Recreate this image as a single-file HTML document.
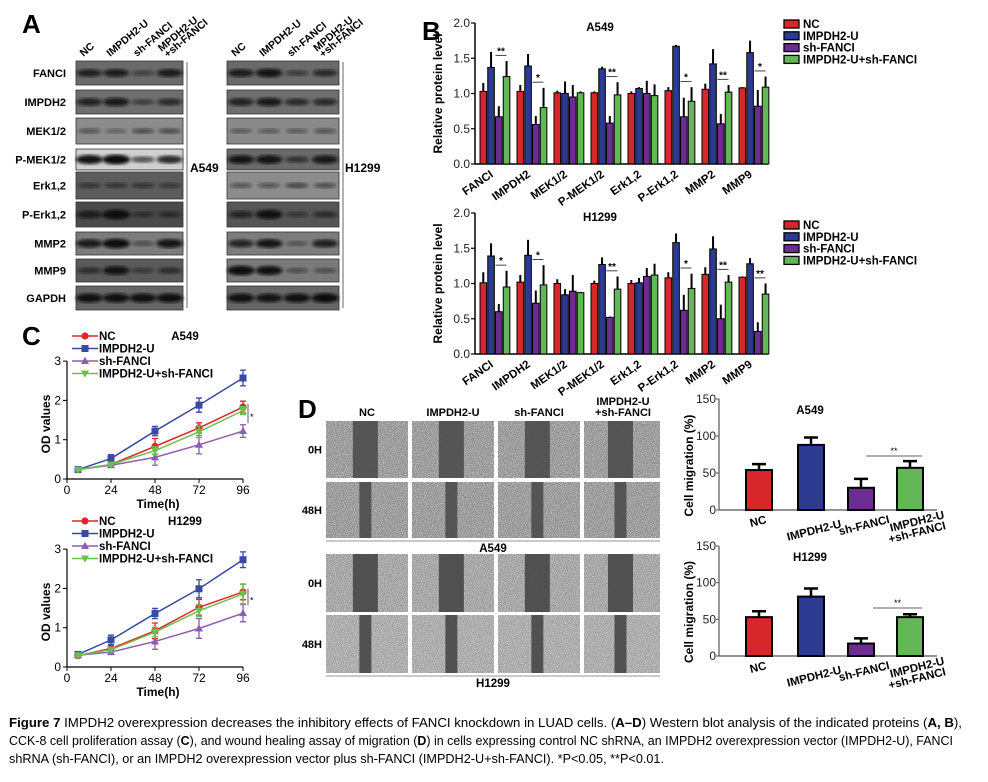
<!DOCTYPE html>
<html><head><meta charset="utf-8"><style>
html,body{margin:0;padding:0;background:#fff}
svg{display:block}
text{font-family:"Liberation Sans",sans-serif}
.b{font-weight:bold}
</style></head><body>
<svg id="fig" width="988" height="782" viewBox="0 0 988 782">
<defs>
<filter id="noise" x="0" y="0" width="100%" height="100%">
<feTurbulence type="fractalNoise" baseFrequency="0.9" numOctaves="2" seed="3"/>
<feColorMatrix type="matrix" values="0 0 0 0 1  0 0 0 0 1  0 0 0 0 1  3 0 0 0 -1.2"/>
</filter>
<filter id="blur1"><feGaussianBlur stdDeviation="1.6"/></filter>
</defs>
<g id="panelA"></g>
<g id="panelB"></g>
<g id="panelC"></g>
<g id="panelD"></g>
<g id="caption">
<text x="9" y="727" font-size="13" textLength="953" lengthAdjust="spacingAndGlyphs"><tspan font-weight="bold">Figure 7</tspan> IMPDH2 overexpression decreases the inhibitory effects of FANCI knockdown in LUAD cells. (<tspan font-weight="bold">A–D</tspan>) Western blot analysis of the indicated proteins (<tspan font-weight="bold">A, B</tspan>),</text>
<text x="9" y="745" font-size="13" textLength="944" lengthAdjust="spacingAndGlyphs">CCK-8 cell proliferation assay (<tspan font-weight="bold">C</tspan>), and wound healing assay of migration (<tspan font-weight="bold">D</tspan>) in cells expressing control NC shRNA, an IMPDH2 overexpression vector (IMPDH2-U), FANCI</text>
<text x="9" y="763" font-size="13" textLength="655" lengthAdjust="spacingAndGlyphs">shRNA (sh-FANCI), or an IMPDH2 overexpression vector plus sh-FANCI (IMPDH2-U+sh-FANCI). *P&lt;0.05, **P&lt;0.01.</text>
</g>
</svg>
<script>
var NS='http://www.w3.org/2000/svg';
function mk(tag,attrs,parent,txt){var e=document.createElementNS(NS,tag);for(var k in attrs)e.setAttribute(k,attrs[k]);if(txt!==undefined)e.textContent=txt;parent.appendChild(e);return e;}
var COL=['#d7262c','#2c3a92','#6b2d90','#62b857'];
var groupNames=['NC','IMPDH2-U','sh-FANCI','IMPDH2-U+sh-FANCI'];

/* ---------- Panel A data ---------- */
var blotRows=['FANCI','IMPDH2','MEK1/2','P-MEK1/2','Erk1,2','P-Erk1,2','MMP2','MMP9','GAPDH'];
var blotA549Bg=['#6a6a6a','#6e6e6e','#8c8c8c','#cfcfcf','#5c5c5c','#4a4a4a','#7c7c7c','#5a5a5a','#666666'];
var blotH1299Bg=['#6a6a6a','#6e6e6e','#8a8a8a','#6a6a6a','#8c8c8c','#555555','#7c7c7c','#7a7a7a','#666666'];
var blotA549Int=[[.7,.75,.35,.75],[.7,.8,.4,.6],[.3,.2,.35,.35],[.9,1,.5,.75],[.4,.4,.4,.35],[.7,1,.4,.45],[.8,.95,.3,.85],[.5,.85,.35,.5],[.9,.9,.9,.9]];
var blotH1299Int=[[.75,.85,.4,.6],[.7,.8,.6,.6],[.25,.25,.25,.3],[.85,.85,.5,.8],[.3,.3,.4,.35],[.6,.9,.35,.5],[.7,.85,.25,.75],[.95,.9,.3,.3],[.9,.85,.9,.95]];
var laneHeaders=['NC','IMPDH2-U','sh-FANCI','MPDH2-U','+sh-FANCI'];

/* ---------- Panel B data ---------- */
var bCategories=['FANCI','IMPDH2','MEK1/2','P-MEK1/2','Erk1,2','P-Erk1,2','MMP2','MMP9'];
var bTicks=['0.0','0.5','1.0','1.5','2.0'];
var bA549NC=[1.03,1.03,1.01,1.01,1.00,1.04,1.06,1.08];
var bA549IMP=[1.37,1.39,1.00,1.35,1.07,1.67,1.42,1.58];
var bA549SH=[0.67,0.56,0.95,0.58,1.00,0.67,0.57,0.82];
var bA549CO=[1.24,0.80,1.01,0.98,0.97,0.89,1.02,1.09];
var bA549NCe=[0.12,0.09,0.03,0.02,0.03,0.05,0.08,0.01];
var bA549IMPe=[0.22,0.17,0.17,0.03,0.02,0.02,0.21,0.17];
var bA549SHe=[0.15,0.12,0.17,0.10,0.18,0.27,0.14,0.23];
var bA549COe=[0.22,0.28,0.02,0.18,0.16,0.20,0.10,0.15];
var bA549Sig=['**','*','','**','','*','**','*'];
var bH1299NC=[1.01,1.02,1.00,1.00,1.00,1.08,1.13,1.09];
var bH1299IMP=[1.39,1.40,0.84,1.27,1.01,1.58,1.49,1.28];
var bH1299SH=[0.60,0.72,0.89,0.52,1.10,0.62,0.50,0.32];
var bH1299CO=[0.95,0.98,0.87,0.92,1.12,0.93,1.02,0.85];
var bH1299NCe=[0.15,0.10,0.06,0.04,0.05,0.08,0.10,0.01];
var bH1299IMPe=[0.18,0.22,0.08,0.10,0.07,0.13,0.18,0.08];
var bH1299SHe=[0.11,0.18,0.23,0.01,0.12,0.22,0.20,0.13];
var bH1299COe=[0.23,0.28,0.01,0.18,0.16,0.21,0.10,0.15];
var bH1299Sig=['*','*','','**','','*','**','**'];

/* ---------- Panel C data ---------- */
var cTimes=[6,24,48,72,96];
var cXTicks=[0,24,48,72,96];
var cYTicks=[0,1,2,3];
var cA549NC=[0.24,0.37,0.83,1.30,1.83];
var cA549IMP=[0.24,0.52,1.22,1.88,2.57];
var cA549SH=[0.24,0.35,0.55,0.87,1.22];
var cA549CO=[0.24,0.37,0.72,1.20,1.74];
var cA549NCe=[0.02,0.05,0.20,0.13,0.15];
var cA549IMPe=[0.02,0.10,0.12,0.18,0.20];
var cA549SHe=[0.02,0.04,0.20,0.23,0.16];
var cA549COe=[0.02,0.04,0.10,0.15,0.10];
var cH1299NC=[0.29,0.47,0.92,1.52,1.91];
var cH1299IMP=[0.32,0.69,1.36,1.99,2.73];
var cH1299SH=[0.30,0.38,0.65,0.98,1.37];
var cH1299CO=[0.30,0.44,0.89,1.43,1.86];
var cH1299NCe=[0.03,0.08,0.20,0.20,0.20];
var cH1299IMPe=[0.03,0.12,0.13,0.23,0.20];
var cH1299SHe=[0.03,0.05,0.20,0.25,0.22];
var cH1299COe=[0.03,0.05,0.12,0.15,0.25];

/* ---------- Panel D data ---------- */
var dCategories=['NC','IMPDH2-U','sh-FANCI','IMPDH2-U|+sh-FANCI'];
var dTicks=[0,50,100,150];
var dA549=[54,88,30,57];
var dA549e=[8,10,12,9];
var dH1299=[53,81,17,53];
var dH1299e=[8,11,7,4];

/* ================= Panel A ================= */
(function(){
var g=document.getElementById('panelA');
var t=mk('text',{x:22,y:33,'font-size':26,'font-weight':'bold'},g,'A');


var rowY=[[61,85],[90,114],[118,144],[149,170],[172,199],[202,227],[232,255],[259,282],[286,310]];
var blots=[{x:76,w:107,bg:blotA549Bg,iv:blotA549Int,name:'A549',lx:190},{x:227,w:112,bg:blotH1299Bg,iv:blotH1299Int,name:'H1299',lx:345}];
blots.forEach(function(b,bi){
  for(var r=0;r<blotRows.length;r++){
    var y0=rowY[r][0],h=rowY[r][1]-rowY[r][0];
    var rc=mk('rect',{x:b.x,y:y0,width:b.w,height:h,fill:b.bg[r],stroke:'#333','stroke-width':0.8},g);
    
    
    for(var l=0;l<4;l++){
      var v=b.iv[r][l];
      var cx=b.x+b.w*(l*0.25+0.125);
      var band=mk('ellipse',{cx:cx,cy:y0+h/2,rx:10+4*v,ry:1.5+3.5*v,fill:'#111','fill-opacity':Math.min(1,0.25+v*0.8),filter:'url(#blur1)'},g);
      
      
    }
  }
  var ln=mk('line',{x1:b.x+b.w+4,y1:62,x2:b.x+b.w+4,y2:308,stroke:'#999','stroke-width':1.5},g);
  
  
  var cl=mk('text',{x:b.lx,y:172,'font-size':12,'font-weight':'bold'},g,b.name);
  
  
  var heads=['NC','IMPDH2-U','sh-FANCI'];
  for(var l=0;l<3;l++){
    var cx=b.x+b.w*(l*0.25+0.125);
    var ht=mk('text',{x:cx-6,y:57,'font-size':10.5,'font-weight':'bold',transform:'rotate(-40 '+(cx-6)+' 57)'},g,heads[l]);
    
    
  }
  var cx4=b.x+b.w*0.875;
  var h1=mk('text',{x:cx4-8,y:52,'font-size':10.5,'font-weight':'bold',transform:'rotate(-40 '+(cx4-8)+' 52)'},g,laneHeaders[3]);
  
  
  var h2=mk('text',{x:cx4-2,y:58,'font-size':10.5,'font-weight':'bold',transform:'rotate(-40 '+(cx4-2)+' 58)'},g,laneHeaders[4]);
  
  
});
for(var r=0;r<blotRows.length;r++){
  var lt=mk('text',{x:66,y:(rowY[r][0]+rowY[r][1])/2+4,'font-size':11,'font-weight':'bold','text-anchor':'end'},g,blotRows[r]);
  
  
}
})();

/* ================= Panel B ================= */
function drawB(g,y0,y2,vals,errs,sig,title,legY){
  var ax=475, axEnd=768;
  function ys(v){return y0-v*(y0-y2)/2;}
  for(var i=0;i<bTicks.length;i++){
    var v=parseFloat(bTicks[i]);
    var tk=mk('line',{x1:ax-4,y1:ys(v),x2:ax,y2:ys(v),stroke:'#000','stroke-width':1.2},g);
    
    
    var tl=mk('text',{x:ax-5,y:ys(v)+4,'font-size':12,'text-anchor':'end',fill:'#222'},g,bTicks[i]);
    
    
  }
  var ya=mk('line',{x1:ax,y1:ys(2),x2:ax,y2:y0,stroke:'#000','stroke-width':1.5},g);
  
  
  var xa=mk('line',{x1:ax,y1:y0,x2:axEnd,y2:y0,stroke:'#000','stroke-width':1.5},g);
  
  
  var yt=mk('text',{x:0,y:0,'font-size':12,'font-weight':'bold','text-anchor':'middle',transform:'translate(442 '+((y0+y2)/2)+') rotate(-90)'},g,'Relative protein level');
  
  
  var tt=mk('text',{x:600,y:y2+8,'font-size':11.5,'font-weight':'bold','text-anchor':'middle'},g,title);
  
  
  for(var c=0;c<bCategories.length;c++){
    var left=480+37*c;
    for(var s=0;s<4;s++){
      var bx=left+7.75*s;
      var v=vals[s][c], e=errs[s][c];
      var eb=mk('line',{x1:bx+3.3,y1:ys(v),x2:bx+3.3,y2:ys(v+e),stroke:'#000','stroke-width':2},g);
      
      
      var br=mk('rect',{x:bx,y:ys(v),width:6.6,height:y0-ys(v),fill:COL[s],stroke:'#000','stroke-width':1},g);
      
      
    }
    if(sig[c]){
      var top=Math.max(vals[2][c]+errs[2][c],vals[3][c]+errs[3][c])+0.08;
      var sl=mk('line',{x1:left+15.5,y1:ys(top),x2:left+26.5,y2:ys(top),stroke:'#444','stroke-width':1},g);
      
      
      var st=mk('text',{x:left+21,y:ys(top)-1,'font-size':10,'font-weight':'bold','text-anchor':'middle'},g,sig[c]);
      
      
    }
    var cx=left+14;
    var cl=mk('text',{x:cx,y:y0+12,'font-size':11.5,'font-weight':'bold','text-anchor':'end',transform:'rotate(-35 '+cx+' '+(y0+12)+')'},g,bCategories[c]);
    
    
  }
  for(var s=0;s<4;s++){
    var lr=mk('rect',{x:784,y:legY+s*11.8-4,width:15,height:8,fill:COL[s],stroke:'#000','stroke-width':1.3},g);
    
    
    var lt=mk('text',{x:803,y:legY+s*11.8+4,'font-size':11.5,'font-weight':'bold'},g,groupNames[s]);
    
    
  }
}
(function(){
var g=document.getElementById('panelB');
var t=mk('text',{x:422,y:40,'font-size':26,'font-weight':'bold'},g,'B');


var g1=mk('g',{},g);


drawB(g1,164,23,[bA549NC,bA549IMP,bA549SH,bA549CO],[bA549NCe,bA549IMPe,bA549SHe,bA549COe],bA549Sig,'A549',24);
var g2=mk('g',{},g);


drawB(g2,354,213,[bH1299NC,bH1299IMP,bH1299SH,bH1299CO],[bH1299NCe,bH1299IMPe,bH1299SHe,bH1299COe],bH1299Sig,'H1299',225);
})();

/* ================= Panel C ================= */
var CCOL=['#e0262a','#3a4aa0','#8d5db0','#6cc04e'];
function marker(g,type,x,y,col){
  var m;
  if(type===0)m=mk('circle',{cx:x,cy:y,r:3.6,fill:col},g);
  else if(type===1)m=mk('rect',{x:x-3.5,y:y-3.5,width:7,height:7,fill:col},g);
  else if(type===2)m=mk('polygon',{points:(x)+','+(y-4.2)+' '+(x-4)+','+(y+3)+' '+(x+4)+','+(y+3),fill:col},g);
  else m=mk('polygon',{points:(x)+','+(y+4.2)+' '+(x-4)+','+(y-3)+' '+(x+4)+','+(y-3),fill:col},g);
  
  
}
function drawC(g,y0,series,errs,title,legY){
  function xs(t){return 67+t*(176/96);}
  function ys(v){return y0-v*39.3;}
  var ya=mk('line',{x1:67,y1:ys(3),x2:67,y2:y0,stroke:'#000','stroke-width':1.2},g);
  
  
  var xa=mk('line',{x1:67,y1:y0,x2:xs(96),y2:y0,stroke:'#000','stroke-width':1.2},g);
  
  
  for(var i=0;i<cYTicks.length;i++){
    var tk=mk('line',{x1:63,y1:ys(cYTicks[i]),x2:67,y2:ys(cYTicks[i]),stroke:'#000'},g);
    
    
    var tl=mk('text',{x:61,y:ys(cYTicks[i])+4,'font-size':12,'text-anchor':'end'},g,String(cYTicks[i]));
    
    
  }
  for(var i=0;i<cXTicks.length;i++){
    var tk=mk('line',{x1:xs(cXTicks[i]),y1:y0,x2:xs(cXTicks[i]),y2:y0+4,stroke:'#000'},g);
    
    
    var tl=mk('text',{x:xs(cXTicks[i]),y:y0+15,'font-size':12,'text-anchor':'middle'},g,String(cXTicks[i]));
    
    
  }
  var xt=mk('text',{x:158,y:y0+29,'font-size':12,'font-weight':'bold','text-anchor':'middle'},g,'Time(h)');
  
  
  var yt=mk('text',{x:0,y:0,'font-size':12,'font-weight':'bold','text-anchor':'middle',transform:'translate(50 '+ys(1.4)+') rotate(-90)'},g,'OD values');
  
  
  var tt=mk('text',{x:185,y:legY+4,'font-size':11.5,'font-weight':'bold','text-anchor':'middle'},g,title);
  
  
  for(var s=0;s<4;s++){
    var pts=[];
    for(var i=0;i<cTimes.length;i++)pts.push(xs(cTimes[i])+','+ys(series[s][i]));
    var pl=mk('polyline',{points:pts.join(' '),fill:'none',stroke:CCOL[s],'stroke-width':1.5},g);
    
    
    for(var i=0;i<cTimes.length;i++){
      var x=xs(cTimes[i]),v=series[s][i],e=errs[s][i];
      var eb=mk('path',{d:'M'+x+' '+ys(v-e)+'V'+ys(v+e)+'M'+(x-3)+' '+ys(v-e)+'h6M'+(x-3)+' '+ys(v+e)+'h6',stroke:CCOL[s],'stroke-width':1.3,fill:'none'},g);
      
      
      marker(g,s,x,ys(v),CCOL[s]);
    }
    var ll=mk('line',{x1:72,y1:legY+s*12.5,x2:98,y2:legY+s*12.5,stroke:CCOL[s],'stroke-width':1.5},g);
    
    
    marker(g,s,85,legY+s*12.5,CCOL[s]);
    var lt=mk('text',{x:99,y:legY+s*12.5+4,'font-size':11.5,'font-weight':'bold'},g,groupNames[s]);
    
    
  }
  var top=Math.max(series[0][4],series[3][4]),bot=series[2][4];
  var sl=mk('line',{x1:248,y1:ys(top+0.08),x2:248,y2:ys(bot+0.2),stroke:'#333','stroke-width':0.8},g);
  
  
  var st=mk('text',{x:250,y:ys((top+bot)/2+0.05)+3,'font-size':9},g,'*');
  
  
}
(function(){
var g=document.getElementById('panelC');
var t=mk('text',{x:22,y:345,'font-size':26,'font-weight':'bold'},g,'C');


var g1=mk('g',{},g);


drawC(g1,479,[cA549NC,cA549IMP,cA549SH,cA549CO],[cA549NCe,cA549IMPe,cA549SHe,cA549COe],'A549',336);
var g2=mk('g',{},g);


drawC(g2,667,[cH1299NC,cH1299IMP,cH1299SH,cH1299CO],[cH1299NCe,cH1299IMPe,cH1299SHe,cH1299COe],'H1299',521);
})();

/* ================= Panel D ================= */
(function(){
var g=document.getElementById('panelD');
var t=mk('text',{x:298,y:418,'font-size':26,'font-weight':'bold'},g,'D');


var cols=[[326,408],[412,494],[498,580],[584,660]];
var rows=[[421,478,'0H',0,'#8e8e8e','#4c4c4c'],[482,538,'48H',1,'#8e8e8e','#4c4c4c'],[554,612,'0H',0,'#9a9a9a','#474747'],[615,673,'48H',1,'#a0a0a0','#474747']];
var hx=[367,453,539];
['NC','IMPDH2-U','sh-FANCI'].forEach(function(h,i){
  var ht=mk('text',{x:hx[i],y:416,'font-size':11,'font-weight':'bold','text-anchor':'middle'},g,h);
  
  
});
var h4=mk('text',{x:623,y:405,'font-size':11,'font-weight':'bold','text-anchor':'middle'},g,'IMPDH2-U');


var h5=mk('text',{x:623,y:416,'font-size':11,'font-weight':'bold','text-anchor':'middle'},g,'+sh-FANCI');


rows.forEach(function(r,ri){
  for(var c=0;c<4;c++){
    var x=cols[c][0],w=cols[c][1]-cols[c][0],y=r[0],h=r[1]-r[0];
    var base=mk('rect',{x:x,y:y,width:w,height:h,fill:r[4]},g);
    
    
    var nz=mk('rect',{x:x,y:y,width:w,height:h,fill:'#fff',filter:'url(#noise)',opacity:0.45},g);
    
    
    var gw=r[3]?12:25, gx=x+w*0.48;
    var gap=mk('rect',{x:gx-gw/2,y:y,width:gw,height:h,fill:r[5],opacity:0.9},g);
    
    
  }
  var rl=mk('text',{x:322,y:(r[0]+r[1])/2+4,'font-size':11,'font-weight':'bold','text-anchor':'end'},g,r[2]);
  
  
});
var l1=mk('line',{x1:326,y1:541,x2:660,y2:541,stroke:'#aaa','stroke-width':1.2},g);


var c1=mk('text',{x:493,y:552,'font-size':11.5,'font-weight':'bold','text-anchor':'middle'},g,'A549');


var l2=mk('line',{x1:326,y1:676,x2:660,y2:676,stroke:'#aaa','stroke-width':1.2},g);


var c2=mk('text',{x:493,y:687,'font-size':11.5,'font-weight':'bold','text-anchor':'middle'},g,'H1299');



function drawD(gg,y0,y150,vals,errs,title,sigY){
  function ys(v){return y0-v*(y0-y150)/150;}
  var ax=719, axEnd=937;
  var ya=mk('line',{x1:ax,y1:y150,x2:ax,y2:y0,stroke:'#555','stroke-width':1.2},gg);
  
  
  var xa=mk('line',{x1:ax,y1:y0,x2:axEnd,y2:y0,stroke:'#555','stroke-width':1.2},gg);
  
  
  for(var i=0;i<dTicks.length;i++){
    var tk=mk('line',{x1:ax-3,y1:ys(dTicks[i]),x2:ax,y2:ys(dTicks[i]),stroke:'#555'},gg);
    
    
    var tl=mk('text',{x:ax-3,y:ys(dTicks[i])+4,'font-size':12,'text-anchor':'end',fill:'#222'},gg,String(dTicks[i]));
    
    
  }
  var yt=mk('text',{x:0,y:0,'font-size':12,'font-weight':'bold','text-anchor':'middle',transform:'translate(693 '+ys(60)+') rotate(-90)'},gg,'Cell migration (%)');
  
  
  var tt=mk('text',{x:810,y:ys(135)+4,'font-size':11.5,'font-weight':'bold','text-anchor':'middle'},gg,title);
  
  
  var cx=[759,811,861,910];
  for(var s=0;s<4;s++){
    var v=vals[s],e=errs[s];
    var eb=mk('path',{d:'M'+cx[s]+' '+ys(v)+'V'+ys(v+e)+'M'+(cx[s]-7)+' '+ys(v+e)+'h14',stroke:'#000','stroke-width':2.5,fill:'none'},gg);
    
    
    var br=mk('rect',{x:cx[s]-13,y:ys(v),width:26,height:y0-ys(v),fill:COL[s],stroke:'#000','stroke-width':2},gg);
    
    
    var parts=dCategories[s].split('|');
    for(var p=0;p<parts.length;p++){
      var lx=cx[s]+(parts.length>1?8:4)-(s===0?4:0), ly=y0+15+p*11+(s===1||s===2?(s===1?9:4):0);
      var lt=mk('text',{x:lx,y:ly,'font-size':11.5,'font-weight':'bold','text-anchor':'middle',transform:'rotate(-14 '+lx+' '+ly+')'},gg,parts[p]);
      
      
    }
  }
  var sl=mk('line',{x1:sigY[0],y1:sigY[2],x2:922,y2:sigY[2],stroke:'#666','stroke-width':1},gg);
  
  
  var st=mk('text',{x:(sigY[0]+922)/2,y:sigY[2]-2,'font-size':9,'text-anchor':'middle'},gg,'**');
  
  
}
var d1=mk('g',{},g);


drawD(d1,510,399,dA549,dA549e,'A549',[866,0,456]);
var d2=mk('g',{},g);


drawD(d2,656,546,dH1299,dH1299e,'H1299',[873,0,608]);
})();
</script>
</body></html>
